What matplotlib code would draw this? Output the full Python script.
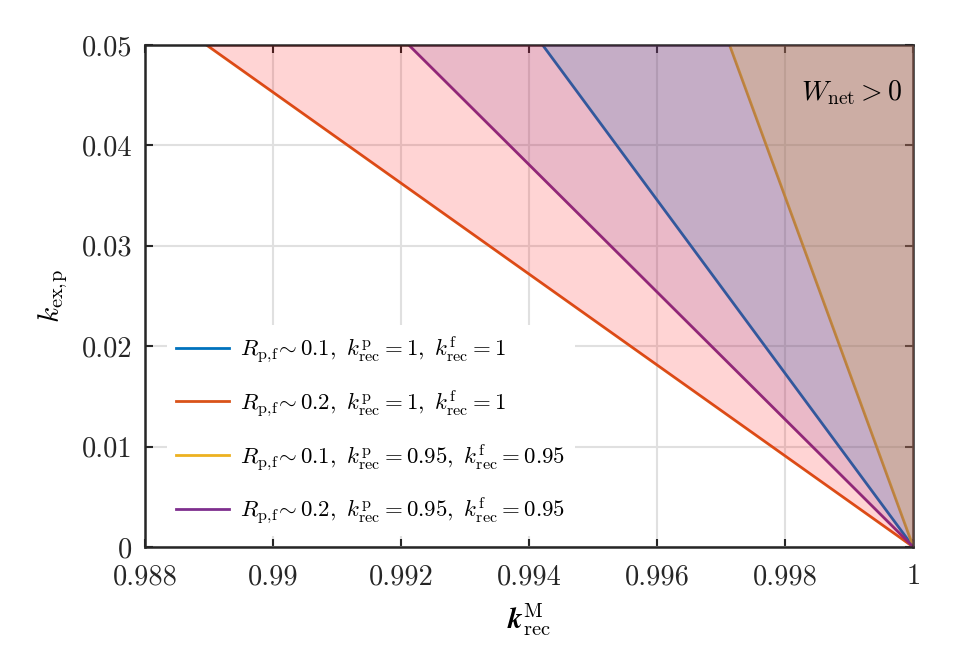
import numpy as np
import matplotlib
matplotlib.use("Agg")
import matplotlib.pyplot as plt

plt.rcParams["font.family"] = "serif"
plt.rcParams["font.serif"] = ["cmr10"]
plt.rcParams["mathtext.fontset"] = "cm"
plt.rcParams["axes.unicode_minus"] = False

# line end points: every curve starts at (1, 0) and hits y = 0.05 at x_top
y_ends = [0.0, 0.05]
x_top = {
    "blue": 0.99421,
    "orange": 0.98896,
    "yellow": 0.99713,
    "purple": 0.99212,
}
labels = {
    "blue": r"$R_{\mathrm{p,\!f}}\!\sim 0.1,\ k^{\mathrm{p}}_{\mathrm{rec}}=1,\ k^{\mathrm{f}}_{\mathrm{rec}}=1$",
    "orange": r"$R_{\mathrm{p,\!f}}\!\sim 0.2,\ k^{\mathrm{p}}_{\mathrm{rec}}=1,\ k^{\mathrm{f}}_{\mathrm{rec}}=1$",
    "yellow": r"$R_{\mathrm{p,\!f}}\!\sim 0.1,\ k^{\mathrm{p}}_{\mathrm{rec}}=0.95,\ k^{\mathrm{f}}_{\mathrm{rec}}=0.95$",
    "purple": r"$R_{\mathrm{p,\!f}}\!\sim 0.2,\ k^{\mathrm{p}}_{\mathrm{rec}}=0.95,\ k^{\mathrm{f}}_{\mathrm{rec}}=0.95$",
}
line_colors = {
    "blue": "#0072BD",
    "orange": "#D95319",
    "yellow": "#EDB120",
    "purple": "#7E2F8E",
}
# shaded regions, drawn widest first
fill_order = ["orange", "purple", "blue", "yellow"]
fill_colors = {"orange": "#FF0000", "purple": "#7E2F8E", "blue": "#0072BD", "yellow": "#EDB120"}
fill_alpha = {"orange": 0.17, "purple": 0.16, "blue": 0.155, "yellow": 0.2}

xticks = [0.988, 0.990, 0.992, 0.994, 0.996, 0.998, 1.0]
xticklabels = ["0.988", "0.99", "0.992", "0.994", "0.996", "0.998", "1"]
yticks = [0, 0.01, 0.02, 0.03, 0.04, 0.05]
yticklabels = ["0", "0.01", "0.02", "0.03", "0.04", "0.05"]

fig = plt.figure(figsize=(9.61, 6.67), dpi=100)
ax = fig.add_axes([0.1509, 0.1799, 0.7995, 0.7526])

for key in ["blue", "orange", "yellow", "purple"]:
    ax.plot([1.0, x_top[key]], y_ends, color=line_colors[key], lw=2.0, label=labels[key], zorder=2)

# fills sit on top of lines and spines, like the original
for key in fill_order:
    ax.fill_betweenx(y_ends, [1.0, x_top[key]], [1.0, 1.0], color=fill_colors[key],
                     alpha=fill_alpha[key], lw=0, zorder=3)

ax.set_xlim(0.988, 1.0)
ax.set_ylim(0, 0.05)
ax.set_xticks(xticks)
ax.set_xticklabels(xticklabels)
ax.set_yticks(yticks)
ax.set_yticklabels(yticklabels)
ax.tick_params(direction="in", length=6, width=1.5, top=True, right=True,
               labelsize=20.5, color="#262626", labelcolor="#262626")
ax.tick_params(axis="x", pad=12)
ax.tick_params(axis="y", pad=9)
for s in ax.spines.values():
    s.set_linewidth(1.8)
    s.set_color("#262626")
ax.grid(True, color="#e0e0e0", lw=1.5, zorder=0)
ax.set_axisbelow(True)

ax.set_ylabel(r"$k_{\mathrm{ex,\!p}}$", fontsize=21)
ax.yaxis.set_label_coords(-0.098, 0.5)
ax.set_xlabel(r"$\boldsymbol{k}^{\mathrm{M}}_{\mathrm{rec}}$", fontsize=21, labelpad=8)
try:
    fig.canvas.draw()
except Exception:
    ax.set_xlabel(r"$k^{\mathrm{M}}_{\mathrm{rec}}$", fontsize=21, labelpad=8)

ax.text(0.99983, 0.0453, r"$W_{\mathrm{net}}>0$", fontsize=20, ha="right", va="center", zorder=5)

leg = ax.legend(loc="lower left", bbox_to_anchor=(0.0135, 0.0), fontsize=16.5,
                frameon=True, facecolor="white", edgecolor="none", framealpha=1,
                fancybox=False, handlelength=2.3, handletextpad=0.5,
                labelspacing=1.0, borderpad=0.4)
leg.set_zorder(6)

fig.savefig("out.png", dpi=100)
